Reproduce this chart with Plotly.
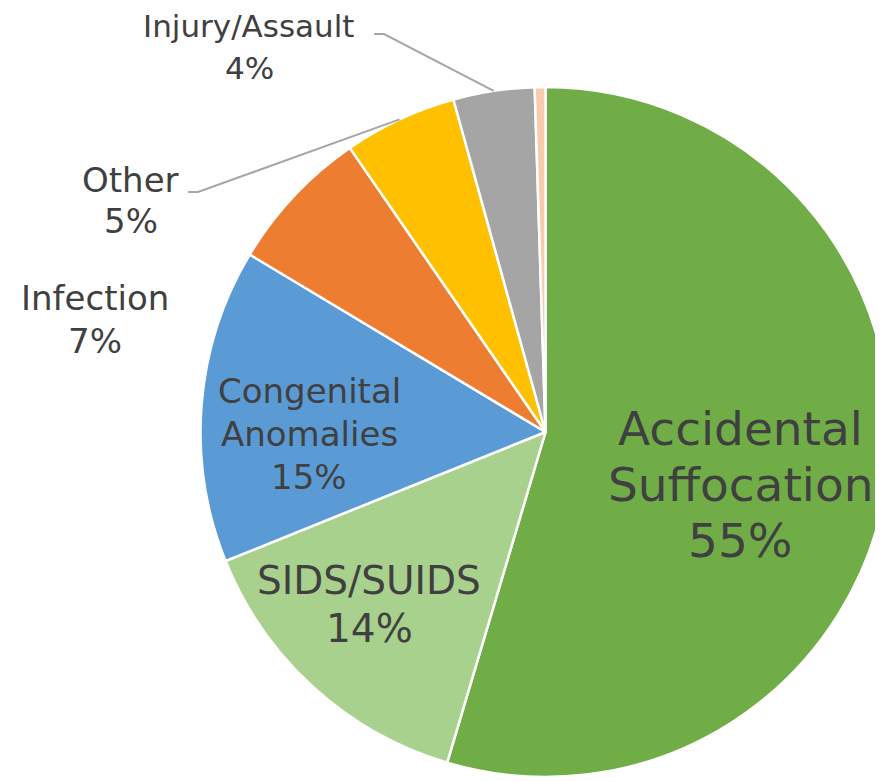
import numpy as np
import plotly.graph_objects as go

# ---- data ----
categories = ["Accidental Suffocation", "SIDS/SUIDS", "Congenital Anomalies",
              "Infection", "Other", "Injury/Assault", "Unknown"]
values = [54.6, 14.3, 14.7, 6.8, 5.3, 3.8, 0.5]
pct_labels = ["55%", "14%", "15%", "7%", "5%", "4%", ""]
label_lines = [["Accidental", "Suffocation"], ["SIDS/SUIDS"], ["Congenital", "Anomalies"],
               ["Infection"], ["Other"], ["Injury/Assault"], []]

# ---- style ----
colors = ["#70AD47", "#A9D18E", "#5B9BD5", "#ED7D31", "#FFC000", "#A5A5A5", "#F8CBAD"]
W, H = 883, 782
OFF = 8  # page body margin
FONT = "DejaVu Sans"
TXT = "#404040"

# pie geometry in page pixels
left, top, bottom = 200, 87, 777

def px(x):
    return (x - OFF) / W

def py(y):
    return 1 - (y - OFF) / H

dom_x = [px(left), 1.0]
dom_y = [py(bottom), py(top)]
cx = (left + W + OFF) / 2
cy = (top + bottom) / 2
R = min(W + OFF - left, bottom - top) / 2

fig = go.Figure(go.Pie(
    labels=categories, values=values, sort=False, direction="clockwise",
    rotation=0, textinfo="none", hoverinfo="label+percent",
    marker=dict(colors=colors, line=dict(color="white", width=2.5)),
    domain=dict(x=dom_x, y=dom_y), showlegend=False,
))

# label placement: centre x, first baseline, line step, font size (page pixels)
label_pos = {
    0: (740, 445, 56, 47),
    1: (369, 595, 48, 39),
    2: (309, 403, 43, 34),
    3: (95, 310, 43, 34),
    4: (131, 192, 41, 34),
    5: (249, 37, 42, 31),
}
for i, (x, b0, step, fs) in label_pos.items():
    lines = label_lines[i] + [pct_labels[i]]
    for k, t in enumerate(lines):
        base = b0 + k * step
        fig.add_annotation(
            x=px(x), y=py(base - 0.36 * fs), xref="paper", yref="paper",
            showarrow=False, text=t, xanchor="center", yanchor="middle",
            font=dict(family=FONT, size=fs, color=TXT),
        )

# leader lines from label to mid-angle on rim
cum = np.cumsum([0] + values)
tot = cum[-1]
leader_start = {4: (188, 192), 5: (374, 34)}
for i, (sx, sy) in leader_start.items():
    mid = (cum[i] + cum[i + 1]) / 2 / tot * 2 * np.pi
    ex = cx + R * np.sin(mid)
    ey = cy - R * np.cos(mid)
    path = f"M {px(sx)} {py(sy)} L {px(sx + 10)} {py(sy)} L {px(ex)} {py(ey)}"
    fig.add_shape(type="path", xref="paper", yref="paper", path=path,
                  line=dict(color="#A6A6A6", width=2))

fig.update_layout(
    width=W, height=H, margin=dict(l=0, r=0, t=0, b=0),
    paper_bgcolor="white", plot_bgcolor="white",
)
fig.write_html("out.html")
